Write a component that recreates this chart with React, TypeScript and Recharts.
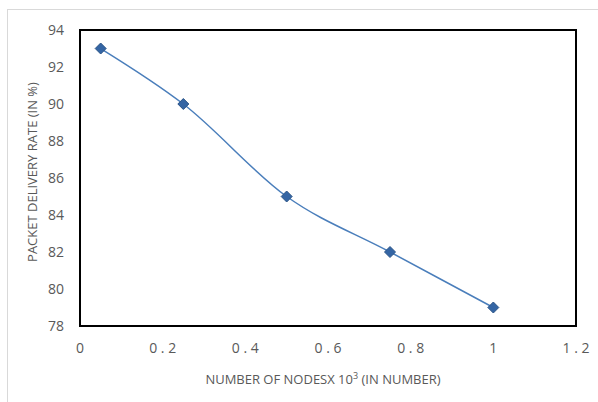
import { LineChart, Line, XAxis, YAxis, ReferenceArea, Label } from "recharts"

// values
const nodes = [0.05, 0.25, 0.5, 0.75, 1]
const pdr = [93, 90, 85, 82, 79]
const xTicks = [0, 0.2, 0.4, 0.6, 0.8, 1, 1.2]
const yTicks = [78, 80, 82, 84, 86, 88, 90, 92, 94]

const data = nodes.map((n, i) => ({ n, pdr: pdr[i] }))

const FONT = "'Open Sans', 'Liberation Sans', Arial, sans-serif"
const GRAY = "#595959"

const Diamond = (props: any) => {
  const { cx, cy } = props
  if (cx == null || cy == null) return null
  const r = 5.5
  return (
    <path
      d={`M${cx},${cy - r} L${cx + r},${cy} L${cx},${cy + r} L${cx - r},${cy} Z`}
      fill="#3465A4"
      stroke="#2B5487"
      strokeWidth={1}
    />
  )
}

const XTick = (props: any) => {
  const { x, y, payload } = props
  const s = String(payload.value).split("").join(" ")
  return (
    <text x={x} y={y + 19} textAnchor="middle" fill={GRAY} fontSize={14} fontFamily={FONT}>
      {s}
    </text>
  )
}

const XLabel = (props: any) => {
  const { viewBox } = props
  const cx = viewBox.x + viewBox.width / 2
  return (
    <text x={cx - 5} y={viewBox.y + 58} textAnchor="middle" fill={GRAY} fontSize={13} fontFamily={FONT}>
      NUMBER OF NODESX 10
      <tspan fontSize={9} dy={-5}>3</tspan>
      <tspan dy={5}> (IN NUMBER)</tspan>
    </text>
  )
}

export default function App() {
  return (
    <div style={{ position: "absolute", left: 0, top: 0, width: 598, height: 402, background: "#fff" }}>
      <div
        style={{
          position: "absolute",
          left: 7,
          top: 9,
          width: 600,
          height: 400,
          border: "1.5px solid #d9d9d9",
          boxSizing: "border-box",
        }}
      />
      <LineChart
        width={598}
        height={402}
        data={data}
        margin={{ top: 30, right: 22, bottom: 36, left: 0 }}
        style={{ position: "absolute", left: 0, top: 0 }}
      >
        <XAxis
          type="number"
          dataKey="n"
          domain={[0, 1.2]}
          ticks={xTicks}
          height={40}
          axisLine={{ stroke: "#000", strokeWidth: 2 }}
          tickLine={false}
          tick={<XTick />}
          interval={0}
        >
          <Label content={<XLabel />} />
        </XAxis>
        <YAxis
          type="number"
          domain={[78, 94]}
          ticks={yTicks}
          width={80}
          axisLine={{ stroke: "#000", strokeWidth: 2 }}
          tickLine={false}
          tick={{ fill: GRAY, fontSize: 14, fontFamily: FONT }}
          tickMargin={10}
          interval={0}
        >
          <Label
            value="PACKET DELIVERY RATE (IN %)"
            angle={-90}
            position="insideLeft"
            offset={0}
            dx={32}
            dy={-6}
            style={{ textAnchor: "middle", fill: GRAY, fontSize: 13, fontFamily: FONT }}
          />
        </YAxis>
        <ReferenceArea x1={0} x2={1.2} y1={78} y2={94} fill="none" stroke="#000" strokeWidth={2} ifOverflow="visible" />
        <Line
          type="monotone"
          dataKey="pdr"
          stroke="#4A7EBB"
          strokeWidth={1.5}
          dot={<Diamond />}
          activeDot={false}
          isAnimationActive={false}
        />
      </LineChart>
    </div>
  )
}
